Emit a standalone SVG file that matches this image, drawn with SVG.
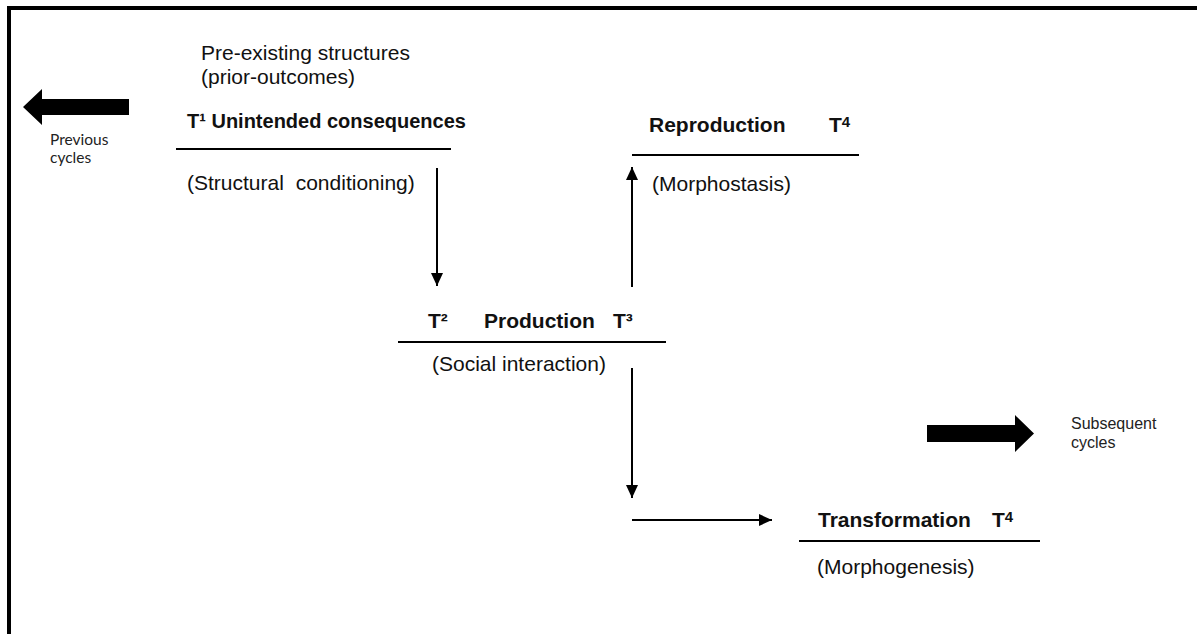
<svg xmlns="http://www.w3.org/2000/svg" width="1197" height="634" viewBox="0 0 1197 634">
<style>
.t{font-family:"Liberation Sans",Arial,sans-serif;font-size:21px;fill:#111}
.b{font-weight:bold}
.t20{font-size:20px}
.sm{font-family:"Liberation Sans",Arial,sans-serif;font-size:16px;fill:#222}
.cal{font-family:Lato,"Open Sans",sans-serif;font-size:15.5px;fill:#222}
.rule{stroke:#000;stroke-width:2}
.conn{stroke:#000;stroke-width:2;fill:none}
</style>
<defs>
<marker id="ah" markerUnits="userSpaceOnUse" markerWidth="14" markerHeight="12" refX="13" refY="6" orient="auto">
<path d="M0,0 L13,6 L0,12 Z" fill="#000"/>
</marker>
</defs>
<rect x="0" y="0" width="1197" height="634" fill="#fff"/>
<g id="frame">
<line x1="7" y1="8" x2="1197" y2="8" stroke="#000" stroke-width="4"/>
<line x1="9" y1="6" x2="9" y2="634" stroke="#000" stroke-width="4"/>
</g>
<g id="previous">
<polygon points="23,107 42,89 42,99 129,99 129,115 42,115 42,125" fill="#000"/>
<text class="cal" x="50" y="145">Previous</text>
<text class="cal" x="50" y="163">cycles</text>
</g>
<g id="subsequent">
<polygon points="927,425 1015,425 1015,415 1034,433.5 1015,452 1015,442 927,442" fill="#000"/>
<text class="sm" x="1071" y="429">Subsequent</text>
<text class="sm" x="1071" y="448">cycles</text>
</g>
<g id="t1">
<text class="t" x="201" y="60">Pre-existing structures</text>
<text class="t" x="201" y="84">(prior-outcomes)</text>
<text class="t b t20" x="187" y="128">T¹ Unintended consequences</text>
<line class="rule" x1="176" y1="149" x2="451" y2="149"/>
<text class="t" x="187" y="190" word-spacing="6">(Structural conditioning)</text>
</g>
<g id="production">
<text class="t b" x="428" y="328">T²</text>
<text class="t b" x="484" y="328">Production</text>
<text class="t b" x="613" y="328">T³</text>
<line class="rule" x1="398" y1="342" x2="666" y2="342"/>
<text class="t" x="432" y="371">(Social interaction)</text>
</g>
<g id="reproduction">
<text class="t b" x="649" y="132">Reproduction</text>
<text class="t b" x="829" y="132">T<tspan font-size="15" dy="-5">4</tspan></text>
<line class="rule" x1="632" y1="155" x2="859" y2="155"/>
<text class="t" x="652" y="191">(Morphostasis)</text>
</g>
<g id="transformation">
<text class="t b" x="818" y="527">Transformation</text>
<text class="t b" x="992" y="527">T<tspan font-size="15" dy="-5">4</tspan></text>
<line class="rule" x1="799" y1="541" x2="1040" y2="541"/>
<text class="t" x="817" y="574">(Morphogenesis)</text>
</g>
<g id="connectors">
<line class="conn" x1="437" y1="168" x2="437" y2="286" marker-end="url(#ah)"/>
<line class="conn" x1="632" y1="287" x2="632" y2="167" marker-end="url(#ah)"/>
<line class="conn" x1="632" y1="368" x2="632" y2="498" marker-end="url(#ah)"/>
<line class="conn" x1="632" y1="520" x2="772" y2="520" marker-end="url(#ah)"/>
</g>
</svg>
